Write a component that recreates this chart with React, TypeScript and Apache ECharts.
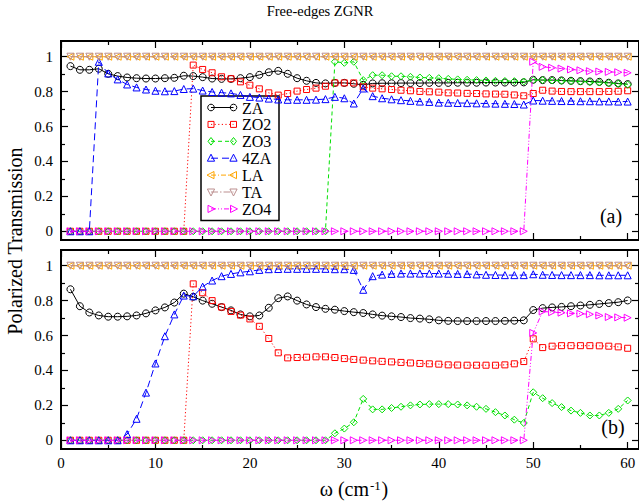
import React, { useEffect, useRef } from "react";
import * as echarts from "echarts";

// ---------- data ----------
const omega = [
  1, 2, 3, 4, 5, 6, 7, 8, 9, 10, 11, 12, 13, 14, 15, 16, 17, 18, 19, 20,
  21, 22, 23, 24, 25, 26, 27, 28, 29, 30, 31, 32, 33, 34, 35, 36, 37, 38, 39, 40,
  41, 42, 43, 44, 45, 46, 47, 48, 49, 50, 51, 52, 53, 54, 55, 56, 57, 58, 59, 60,
];

const seriesNames = ["ZA", "ZO2", "ZO3", "4ZA", "LA", "TA", "ZO4"];
const chartTitle = "Free-edges ZGNR";
const yTitle = "Polarized Transmission";

// panel (a)
const ZA_a = [
  0.946, 0.925, 0.925, 0.931, 0.902, 0.889, 0.881, 0.877, 0.875, 0.875, 0.877, 0.879, 0.891, 0.889, 0.883, 0.875, 0.873, 0.873, 0.877, 0.883,
  0.896, 0.911, 0.919, 0.902, 0.877, 0.862, 0.85, 0.847, 0.85, 0.85, 0.845, 0.839, 0.847, 0.848, 0.848, 0.849, 0.849, 0.849, 0.85, 0.85,
  0.85, 0.851, 0.851, 0.851, 0.852, 0.852, 0.852, 0.852, 0.853, 0.868, 0.866, 0.866, 0.864, 0.862, 0.86, 0.858, 0.856, 0.851, 0.847, 0.843,
];
const ZO2_a = [
  0, 0, 0, 0, 0, 0, 0, 0, 0, 0, 0, 0, 0, 0.952, 0.927, 0.908, 0.885, 0.874, 0.856, 0.837,
  0.816, 0.793, 0.78, 0.789, 0.803, 0.812, 0.82, 0.831, 0.85, 0.85, 0.85, 0.828, 0.82, 0.816, 0.812, 0.808, 0.805, 0.801, 0.799, 0.797,
  0.793, 0.792, 0.79, 0.789, 0.787, 0.786, 0.785, 0.781, 0.776, 0.789, 0.808, 0.803, 0.801, 0.8, 0.8, 0.8, 0.8, 0.801, 0.802, 0.805,
];
const ZO3_a = [
  0, 0, 0, 0, 0, 0, 0, 0, 0, 0, 0, 0, 0, 0, 0, 0, 0, 0, 0, 0,
  0, 0, 0, 0, 0, 0, 0, 0, 0.971, 0.965, 0.971, 0.866, 0.894, 0.894, 0.888, 0.888, 0.885, 0.881, 0.879, 0.877,
  0.873, 0.87, 0.868, 0.866, 0.864, 0.862, 0.861, 0.86, 0.858, 0.866, 0.866, 0.864, 0.862, 0.86, 0.858, 0.855, 0.852, 0.849, 0.845, 0.84,
];
const FZA_a = [
  0, 0, 0, 0.971, 0.904, 0.87, 0.841, 0.824, 0.812, 0.805, 0.802, 0.803, 0.815, 0.817, 0.806, 0.798, 0.794, 0.79, 0.781, 0.77,
  0.766, 0.76, 0.755, 0.753, 0.753, 0.753, 0.754, 0.757, 0.77, 0.762, 0.732, 0.818, 0.774, 0.762, 0.756, 0.751, 0.747, 0.743, 0.741, 0.737,
  0.736, 0.735, 0.734, 0.733, 0.732, 0.731, 0.73, 0.729, 0.726, 0.749, 0.748, 0.747, 0.746, 0.746, 0.745, 0.745, 0.744, 0.744, 0.743, 0.743,
];
const LA_a = [
  1, 1, 1, 1, 1, 1, 1, 1, 1, 1, 1, 1, 1, 1, 1, 1, 1, 1, 1, 1,
  1, 1, 1, 1, 1, 1, 1, 1, 1, 1, 1, 1, 1, 1, 1, 1, 1, 1, 1, 1,
  1, 1, 1, 1, 1, 1, 1, 1, 1, 1, 1, 1, 1, 1, 1, 1, 1, 1, 1, 1,
];
const TA_a = [
  1, 1, 1, 1, 1, 1, 1, 1, 1, 1, 1, 1, 1, 1, 1, 1, 1, 1, 1, 1,
  1, 1, 1, 1, 1, 1, 1, 1, 1, 1, 1, 1, 1, 1, 1, 1, 1, 1, 1, 1,
  1, 1, 1, 1, 1, 1, 1, 1, 1, 1, 1, 1, 1, 1, 1, 1, 1, 1, 1, 1,
];
const ZO4_a = [
  0, 0, 0, 0, 0, 0, 0, 0, 0, 0, 0, 0, 0, 0, 0, 0, 0, 0, 0, 0,
  0, 0, 0, 0, 0, 0, 0, 0, 0, 0, 0, 0, 0, 0, 0, 0, 0, 0, 0, 0,
  0, 0, 0, 0, 0, 0, 0, 0, 0, 0.971, 0.942, 0.937, 0.932, 0.927, 0.922, 0.917, 0.915, 0.913, 0.911, 0.908,
];

// panel (b)
const ZA_b = [
  0.865, 0.768, 0.732, 0.715, 0.708, 0.708, 0.71, 0.715, 0.727, 0.744, 0.761, 0.789, 0.84, 0.822, 0.8, 0.782, 0.763, 0.744, 0.721, 0.71,
  0.715, 0.759, 0.814, 0.824, 0.8, 0.778, 0.763, 0.753, 0.748, 0.74, 0.734, 0.729, 0.721, 0.714, 0.71, 0.706, 0.7, 0.697, 0.693, 0.687,
  0.684, 0.683, 0.683, 0.683, 0.683, 0.683, 0.684, 0.685, 0.687, 0.746, 0.757, 0.761, 0.764, 0.768, 0.772, 0.776, 0.781, 0.786, 0.791, 0.801,
];
const ZO2_b = [
  0, 0, 0, 0, 0, 0, 0, 0, 0, 0, 0, 0, 0, 0.896, 0.845, 0.8, 0.763, 0.738, 0.717, 0.695,
  0.653, 0.583, 0.501, 0.472, 0.474, 0.476, 0.478, 0.478, 0.474, 0.468, 0.463, 0.459, 0.455, 0.452, 0.449, 0.446, 0.443, 0.44, 0.438, 0.436,
  0.432, 0.431, 0.43, 0.43, 0.43, 0.43, 0.432, 0.438, 0.451, 0.581, 0.531, 0.539, 0.542, 0.542, 0.542, 0.542, 0.541, 0.539, 0.535, 0.527,
];
const ZO3_b = [
  0, 0, 0, 0, 0, 0, 0, 0, 0, 0, 0, 0, 0, 0, 0, 0, 0, 0, 0, 0,
  0, 0, 0, 0, 0, 0, 0, 0, 0.04, 0.067, 0.103, 0.237, 0.177, 0.177, 0.185, 0.192, 0.2, 0.205, 0.207, 0.207,
  0.207, 0.205, 0.2, 0.192, 0.18, 0.161, 0.142, 0.118, 0.099, 0.275, 0.241, 0.213, 0.19, 0.17, 0.157, 0.142, 0.142, 0.157, 0.18, 0.228,
];
const FZA_b = [
  0, 0, 0, 0, 0, 0, 0.035, 0.123, 0.273, 0.44, 0.596, 0.721, 0.829, 0.825, 0.88, 0.915, 0.94, 0.953, 0.962, 0.968,
  0.976, 0.98, 0.981, 0.982, 0.982, 0.982, 0.982, 0.982, 0.98, 0.98, 0.976, 0.862, 0.94, 0.949, 0.953, 0.955, 0.955, 0.955, 0.955, 0.955,
  0.954, 0.953, 0.952, 0.95, 0.948, 0.947, 0.946, 0.946, 0.946, 0.951, 0.948, 0.947, 0.946, 0.946, 0.946, 0.946, 0.945, 0.945, 0.945, 0.945,
];
const LA_b = [
  1, 1, 1, 1, 1, 1, 1, 1, 1, 1, 1, 1, 1, 1, 1, 1, 1, 1, 1, 1,
  1, 1, 1, 1, 1, 1, 1, 1, 1, 1, 1, 1, 1, 1, 1, 1, 1, 1, 1, 1,
  1, 1, 1, 1, 1, 1, 1, 1, 1, 1, 1, 1, 1, 1, 1, 1, 1, 1, 1, 1,
];
const TA_b = [
  1, 1, 1, 1, 1, 1, 1, 1, 1, 1, 1, 1, 1, 1, 1, 1, 1, 1, 1, 1,
  1, 1, 1, 1, 1, 1, 1, 1, 1, 1, 1, 1, 1, 1, 1, 1, 1, 1, 1, 1,
  1, 1, 1, 1, 1, 1, 1, 1, 1, 1, 1, 1, 1, 1, 1, 1, 1, 1, 1, 1,
];
const ZO4_b = [
  0, 0, 0, 0, 0, 0, 0, 0, 0, 0, 0, 0, 0, 0, 0, 0, 0, 0, 0, 0,
  0, 0, 0, 0, 0, 0, 0, 0, 0, 0, 0, 0, 0, 0, 0, 0, 0, 0, 0, 0,
  0, 0, 0, 0, 0, 0, 0, 0, 0, 0.615, 0.738, 0.734, 0.731, 0.727, 0.725, 0.722, 0.715, 0.706, 0.704, 0.702,
];

const panelA = [ZA_a, ZO2_a, ZO3_a, FZA_a, LA_a, TA_a, ZO4_a];
const panelB = [ZA_b, ZO2_b, ZO3_b, FZA_b, LA_b, TA_b, ZO4_b];

const xMajorTicks = [0, 10, 20, 30, 40, 50, 60];
const xMinorTicks = [5, 15, 25, 35, 45, 55];
const yMajorTicks = [0, 0.2, 0.4, 0.6, 0.8, 1];
const yMinorTicks = [0.1, 0.3, 0.5, 0.7, 0.9];
const panelLabels = ["(a)", "(b)"];

// ---------- styles ----------
const FONT = "Liberation Serif";

type Marker = "circle" | "rect" | "diamond" | "up" | "left" | "down" | "right";
const styles: { color: string; dash: any; marker: Marker; size: number }[] = [
  { color: "#000000", dash: "solid", marker: "circle", size: 7 },
  { color: "#ff0000", dash: [1.2, 2.4], marker: "rect", size: 6 },
  { color: "#00e000", dash: [4, 3], marker: "diamond", size: 7 },
  { color: "#0000ff", dash: [7, 4], marker: "up", size: 7 },
  { color: "#ffa500", dash: [5, 2, 1, 2], marker: "left", size: 7 },
  { color: "#bc8f8f", dash: [7, 2, 1.5, 2], marker: "down", size: 7 },
  { color: "#ff00ff", dash: [5, 2, 1, 2, 1, 2], marker: "right", size: 7 },
];

const symbolFor: Record<Marker, string> = {
  circle: "circle",
  rect: "rect",
  diamond: "diamond",
  up: "triangle",
  left: "path://M0,5L9,0L9,10Z",
  down: "path://M0,0L10,0L5,9Z",
  right: "path://M9,5L0,0L0,10Z",
};

const GRID_LEFT = 61;
const GRID_WIDTH = 579;
const GRID_HEIGHT = 199;
const GRID_TOPS = [41, 250];
const X_MIN = 0;
const X_MAX = 61.2;
const Y_MIN = -0.05;
const Y_MAX = 1.09;

function markerGraphic(kind: Marker, cx: number, cy: number, color: string) {
  const style = { fill: "none", stroke: color, lineWidth: 1 };
  switch (kind) {
    case "circle":
      return { type: "circle", shape: { cx, cy, r: 3.3 }, style };
    case "rect":
      return { type: "rect", shape: { x: cx - 3, y: cy - 3, width: 6, height: 6 }, style };
    case "diamond":
      return { type: "polygon", shape: { points: [[cx, cy - 3.8], [cx + 3, cy], [cx, cy + 3.8], [cx - 3, cy]] }, style };
    case "up":
      return { type: "polygon", shape: { points: [[cx, cy - 4], [cx + 3.6, cy + 3], [cx - 3.6, cy + 3]] }, style };
    case "left":
      return { type: "polygon", shape: { points: [[cx - 4, cy], [cx + 3, cy - 3.6], [cx + 3, cy + 3.6]] }, style };
    case "down":
      return { type: "polygon", shape: { points: [[cx, cy + 4], [cx + 3.6, cy - 3], [cx - 3.6, cy - 3]] }, style };
    case "right":
    default:
      return { type: "polygon", shape: { points: [[cx + 4, cy], [cx - 3, cy - 3.6], [cx - 3, cy + 3.6]] }, style };
  }
}

function textStyle(text: string, size: number, align: string, vAlign: string) {
  return {
    text,
    fill: "#000",
    fontFamily: FONT,
    fontSize: size,
    textAlign: align,
    textVerticalAlign: vAlign,
  };
}

function buildOption() {
  const grids: any[] = [];
  const xAxes: any[] = [];
  const yAxes: any[] = [];
  const series: any[] = [];
  const tickStyle = { color: "#000", width: 1.2 };

  [panelA, panelB].forEach((panel, g) => {
    grids.push({
      left: GRID_LEFT,
      top: GRID_TOPS[g],
      width: GRID_WIDTH,
      height: GRID_HEIGHT,
      show: true,
      borderColor: "#000",
      borderWidth: 2,
      backgroundColor: "transparent",
    });
    const xBase = {
      gridIndex: g,
      type: "value",
      min: X_MIN,
      max: X_MAX,
      axisLine: { show: false, onZero: false },
      splitLine: { show: false },
    };
    const showX = g === 1;
    xAxes.push({
      ...xBase,
      position: "bottom",
      axisTick: { show: true, inside: true, length: 7, lineStyle: tickStyle, customValues: xMajorTicks },
      axisLabel: {
        show: showX,
        customValues: xMajorTicks,
        margin: 6,
        color: "#000",
        fontSize: 15,
        fontFamily: FONT,
      },
    });
    xAxes.push({
      ...xBase,
      position: "bottom",
      axisTick: { show: true, inside: true, length: 4, lineStyle: tickStyle, customValues: xMinorTicks },
      axisLabel: { show: false },
    });
    xAxes.push({
      ...xBase,
      position: "top",
      axisTick: { show: true, inside: true, length: 7, lineStyle: tickStyle, customValues: xMajorTicks },
      axisLabel: { show: false },
    });
    xAxes.push({
      ...xBase,
      position: "top",
      axisTick: { show: true, inside: true, length: 4, lineStyle: tickStyle, customValues: xMinorTicks },
      axisLabel: { show: false },
    });

    const yBase = {
      gridIndex: g,
      type: "value",
      min: Y_MIN,
      max: Y_MAX,
      axisLine: { show: false, onZero: false },
      splitLine: { show: false },
    };
    yAxes.push({
      ...yBase,
      position: "left",
      axisTick: { show: true, inside: true, length: 7, lineStyle: tickStyle, customValues: yMajorTicks },
      axisLabel: {
        show: true,
        customValues: yMajorTicks,
        margin: 8,
        color: "#000",
        fontSize: 15,
        fontFamily: FONT,
        formatter: (v: number) => (v === 0 || v === 1 ? String(v) : v.toFixed(1)),
      },
    });
    yAxes.push({
      ...yBase,
      position: "left",
      axisTick: { show: true, inside: true, length: 4, lineStyle: tickStyle, customValues: yMinorTicks },
      axisLabel: { show: false },
    });
    yAxes.push({
      ...yBase,
      position: "right",
      axisTick: { show: true, inside: true, length: 7, lineStyle: tickStyle, customValues: yMajorTicks },
      axisLabel: { show: false },
    });
    yAxes.push({
      ...yBase,
      position: "right",
      axisTick: { show: true, inside: true, length: 4, lineStyle: tickStyle, customValues: yMinorTicks },
      axisLabel: { show: false },
    });

    panel.forEach((values, s) => {
      const st = styles[s];
      series.push({
        name: seriesNames[s],
        type: "line",
        xAxisIndex: g * 4,
        yAxisIndex: g * 4,
        data: omega.map((x, i) => [x, values[i]]),
        symbol: symbolFor[st.marker],
        symbolSize: st.size,
        showAllSymbol: true,
        lineStyle: { color: st.color, width: 1, type: st.dash },
        itemStyle: { color: "rgba(0,0,0,0)", borderColor: st.color, borderWidth: 1 },
        emphasis: { disabled: true },
        z: 2 + s,
      });
    });
  });

  // legend drawn as graphic
  const legendX = 201;
  const legendY = 96;
  const rowH = 16.9;
  const legendChildren: any[] = [
    {
      type: "rect",
      shape: { x: legendX, y: legendY, width: 78, height: 124.5 },
      style: { fill: "#fff", stroke: "#000", lineWidth: 1.5 },
    },
  ];
  seriesNames.forEach((name, s) => {
    const st = styles[s];
    const cy = legendY + 11.5 + s * rowH;
    legendChildren.push({
      type: "line",
      shape: { x1: 211, y1: cy, x2: 233.5, y2: cy },
      style: {
        stroke: st.color,
        lineWidth: 1,
        lineDash: Array.isArray(st.dash) ? st.dash : null,
      },
    });
    legendChildren.push(markerGraphic(st.marker, 211, cy, st.color));
    legendChildren.push(markerGraphic(st.marker, 233.5, cy, st.color));
    legendChildren.push({
      type: "text",
      x: 242,
      y: cy + 0.5,
      style: textStyle(name, 16, "left", "middle"),
    });
  });

  const graphic: any[] = [
    { type: "text", z: 100, x: 320, y: 11, style: textStyle(chartTitle, 14.5, "center", "middle") },
    { type: "group", z: 100, children: legendChildren },
    { type: "text", z: 100, x: 611, y: 216, style: textStyle(panelLabels[0], 20, "center", "middle") },
    { type: "text", z: 100, x: 613, y: 427, style: textStyle(panelLabels[1], 20, "center", "middle") },
    {
      type: "text",
      z: 100,
      x: 14.5,
      y: 241,
      rotation: Math.PI / 2,
      style: textStyle(yTitle, 20, "center", "middle"),
    },
    { type: "text", z: 100, x: 369, y: 499, style: textStyle("ω (cm", 20, "right", "bottom") },
    { type: "text", z: 100, x: 370, y: 492, style: textStyle("-1", 13, "left", "bottom") },
    { type: "text", z: 100, x: 381.5, y: 499, style: textStyle(")", 20, "left", "bottom") },
  ];

  return {
    animation: false,
    backgroundColor: "#fff",
    grid: grids,
    xAxis: xAxes,
    yAxis: yAxes,
    series,
    graphic,
  };
}

export default function App() {
  const ref = useRef<HTMLDivElement | null>(null);
  useEffect(() => {
    if (!ref.current) return;
    const chart = echarts.init(ref.current, undefined, { renderer: "svg" });
    chart.setOption(buildOption() as any);
    return () => chart.dispose();
  }, []);
  return (
    <div
      ref={ref}
      style={{ position: "fixed", left: 0, top: 0, width: 639, height: 503, background: "#fff" }}
    />
  );
}
